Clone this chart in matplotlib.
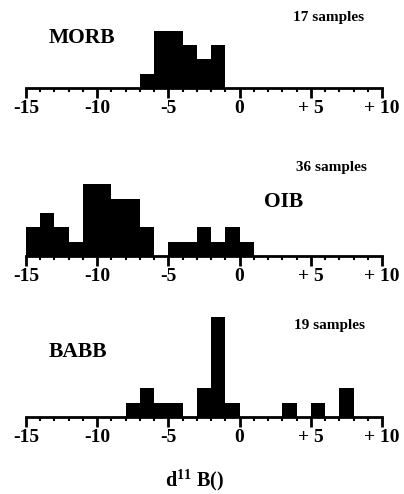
import numpy as np
from matplotlib import pyplot as plt
from matplotlib.ticker import MultipleLocator

# bin left edges (width 1 per-mil) and counts
morb_bins = [-7, -6, -5, -4, -3, -2]
morb_counts = [1, 4, 4, 3, 2, 3]

oib_bins = [-15, -14, -13, -12, -11, -10, -9, -8, -7, -6, -5, -4, -3, -2, -1, 0]
oib_counts = [2, 3, 2, 1, 5, 5, 4, 4, 2, 0, 1, 1, 2, 1, 2, 1]

babb_bins = [-8, -7, -6, -5, -4, -3, -2, -1, 3, 5, 7]
babb_counts = [1, 2, 1, 1, 0, 2, 7, 1, 1, 1, 2]

tick_values = [-15, -10, -5, 0, 5, 10]
tick_labels = ['-15', '-10', '-5', '0', '+ 5', '+ 10']

plt.rcParams['font.family'] = 'Liberation Serif'
plt.rcParams['mathtext.fontset'] = 'custom'
plt.rcParams['mathtext.rm'] = 'Liberation Serif:bold'
plt.rcParams['mathtext.bf'] = 'Liberation Serif:bold'

W, H = 404, 494
fig = plt.figure(figsize=(W / 100, H / 100), dpi=100)

unit = 14.35  # px per sample
left, right = 26, 382

panels = [
    # bins, counts, baseline px, height px, name, name pos, samples text pos
    (morb_bins, morb_counts, 88, 70, 'MORB', (82, 38), '17 samples', (329, 18)),
    (oib_bins, oib_counts, 256, 85, 'OIB', (284, 202), '36 samples', (331, 168)),
    (babb_bins, babb_counts, 417, 110, 'BABB', (78, 352), '19 samples', (329, 326)),
]

for bins, counts, base, hpx, name, npos, stext, spos in panels:
    ax = fig.add_axes([left / W, 1 - base / H, (right - left) / W, hpx / H])
    ax.bar(bins, counts, width=1, align='edge', color='black', linewidth=0)
    ax.set_xlim(-15, 10)
    ax.set_ylim(0, hpx / unit)
    for s in ['top', 'right', 'left']:
        ax.spines[s].set_visible(False)
    ax.spines['bottom'].set_linewidth(2)
    ax.set_yticks([])
    ax.set_xticks(tick_values)
    ax.set_xticklabels(tick_labels, fontsize=14, fontweight='bold')
    ax.xaxis.set_minor_locator(MultipleLocator(1))
    ax.tick_params(axis='x', which='major', length=7.5, width=2, pad=1)
    ax.tick_params(axis='x', which='minor', length=3, width=1.5)
    ax.patch.set_alpha(0)
    fig.text(npos[0] / W, 1 - npos[1] / H, name, fontsize=15.5, fontweight='bold',
             ha='center', va='center')
    fig.text(spos[0] / W, 1 - spos[1] / H, stext, fontsize=11, fontweight='bold',
             ha='center', va='center')

fig.text(194 / W, 1 - 480 / H, r'd$^{11}$ B()', fontsize=14.5, fontweight='bold',
         ha='center', va='center')

fig.savefig('out.png', dpi=100)
